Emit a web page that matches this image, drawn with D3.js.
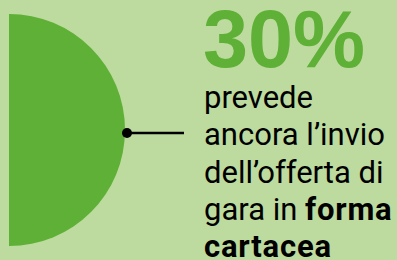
<!DOCTYPE html>
<html lang="it">
<head>
  <meta charset="UTF-8">
  <title>30% forma cartacea</title>
  <script src="https://d3js.org/d3.v7.min.js"></script>
  <style>
    body { margin: 0; background: #bddb9e; }
  </style>
</head>
<body>
  <div id="chart"></div>
  <script>
    // Data
    const headline = "30%";
    const textLines = ["prevede", "ancora l’invio", "dell’offerta di", "gara in |forma", "cartacea"];
    const boldWords = ["forma", "cartacea"];

    const width = 397, height = 260;

    const svg = d3.select("#chart").append("svg")
      .attr("width", width)
      .attr("height", height);

    svg.append("rect")
      .attr("width", width)
      .attr("height", height)
      .attr("fill", "#bddb9e");

    // Half disc on the left
    const arc = d3.arc()
      .innerRadius(0)
      .outerRadius(116)
      .startAngle(0)
      .endAngle(Math.PI);

    svg.append("path")
      .attr("transform", "translate(9,130)")
      .attr("d", arc())
      .attr("fill", "#5fb036");

    // Pointer line
    svg.append("line")
      .attr("x1", 127).attr("x2", 184)
      .attr("y1", 133).attr("y2", 133)
      .attr("stroke", "#000")
      .attr("stroke-width", 2.5);

    svg.append("circle")
      .attr("cx", 127).attr("cy", 133)
      .attr("r", 5)
      .attr("fill", "#000");

    // Big number
    svg.append("text")
      .attr("x", 203)
      .attr("y", 67)
      .attr("font-family", "Liberation Sans, Arial, sans-serif")
      .attr("font-weight", "bold")
      .attr("font-size", 81)
      .attr("fill", "#5fb036")
      .text(headline);

    // Description lines
    const txt = svg.append("text")
      .attr("font-family", "Roboto, sans-serif")
      .attr("font-size", 31)
      .attr("fill", "#000");

    textLines.forEach((line, i) => {
      line.split("|").forEach((p, j) => {
        const t = txt.append("tspan").text(p);
        if (j === 0) t.attr("x", 204).attr("y", 108 + i * 37.3);
        if (boldWords.includes(p)) t.attr("font-weight", "bold").attr("letter-spacing", 0.8);
      });
    });
  </script>
</body>
</html>
